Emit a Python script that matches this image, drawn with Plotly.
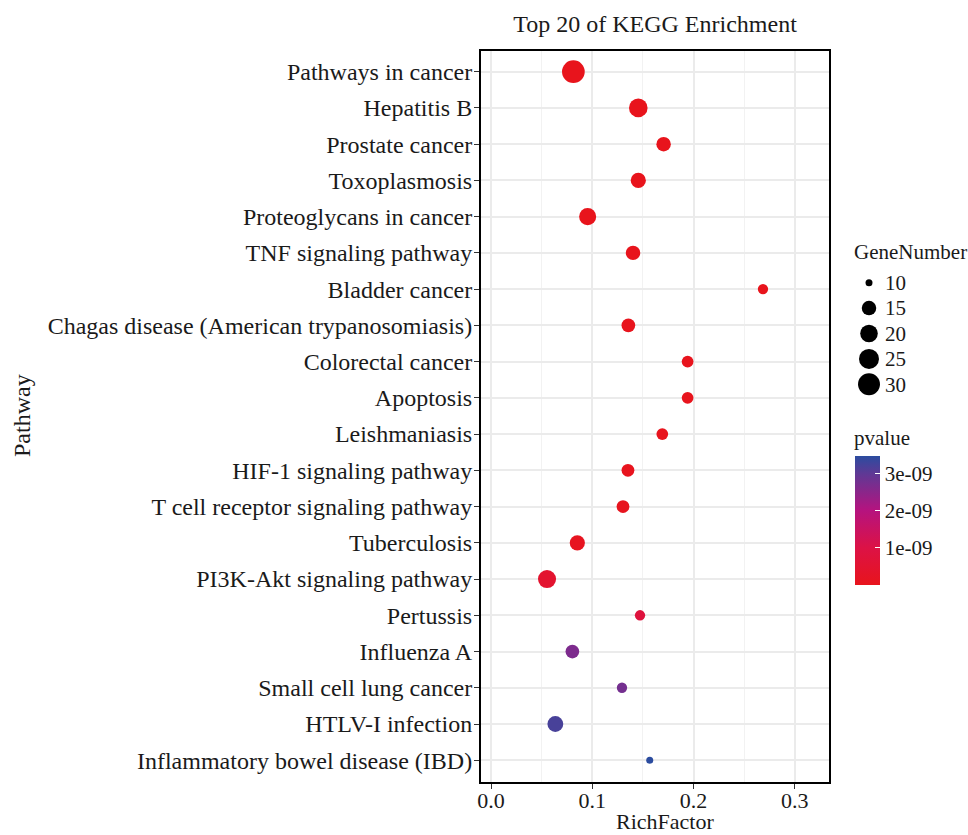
import plotly.graph_objects as go
import numpy as np

pathways = [
    "Pathways in cancer", "Hepatitis B", "Prostate cancer", "Toxoplasmosis",
    "Proteoglycans in cancer", "TNF signaling pathway", "Bladder cancer",
    "Chagas disease (American trypanosomiasis)", "Colorectal cancer", "Apoptosis",
    "Leishmaniasis", "HIF-1 signaling pathway", "T cell receptor signaling pathway",
    "Tuberculosis", "PI3K-Akt signaling pathway", "Pertussis", "Influenza A",
    "Small cell lung cancer", "HTLV-I infection", "Inflammatory bowel disease (IBD)",
]
rich_factor = [0.0813, 0.1454, 0.1704, 0.1454, 0.0954, 0.1402, 0.2685, 0.1356,
               0.1941, 0.1941, 0.1691, 0.1352, 0.1303, 0.0852, 0.0553, 0.1471,
               0.0803, 0.1293, 0.0635, 0.1567]
gene_number = [32, 22, 15, 16, 19, 15, 11, 14, 12, 12, 12, 13, 13, 16, 21, 11,
               14, 11, 17, 10]
pvalue = [2.0e-16, 1.5e-14, 3.0e-13, 8.0e-13, 2.0e-12, 4.0e-12, 1.0e-11, 1.5e-11,
          2.0e-11, 2.5e-11, 3.0e-11, 4.0e-11, 5.0e-11, 1.0e-10, 4.5e-10, 8.0e-10,
          2.65e-09, 2.75e-09, 3.2e-09, 3.47e-09]
legend_sizes = [10, 15, 20, 25, 30]
cbar_ticks = [1e-9, 2e-9, 3e-9]
cbar_ticktext = ["1e-09", "2e-09", "3e-09"]
x_ticks = [0.0, 0.1, 0.2, 0.3]
x_ticktext = ["0.0", "0.1", "0.2", "0.3"]

FONT = "Liberation Serif"
TXT = "#1a1a1a"
W, H = 968, 835
L, R, T, B = 481, 20, 51, 53
plot_w = W - L - R
plot_h = H - T - B
main_dom = 348 / plot_w

def px_x(x):
    return (x - L) / plot_w

def px_y(y):
    return (H - B - y) / plot_h

gmin, gmax = 10, 32
def diam(g):
    g = np.asarray(g, dtype=float)
    return 7 + 15.7 * np.sqrt(np.clip((g - gmin) / (gmax - gmin), 0, None))

colorscale = [
    [0.0, "#E8141C"],
    [0.29, "#DC1246"],
    [0.58, "#B5137F"],
    [0.865, "#5E3995"],
    [1.0, "#2B4C9F"],
]

fig = go.Figure()
fig.add_trace(go.Scatter(
    x=rich_factor, y=pathways, mode="markers",
    marker=dict(
        size=diam(gene_number), color=pvalue, colorscale=colorscale,
        cmin=min(pvalue), cmax=max(pvalue), line=dict(width=0), opacity=1,
        colorbar=dict(
            x=px_x(855), xanchor="left", xpad=0,
            y=px_y(585), yanchor="bottom", ypad=0,
            len=129, lenmode="pixels", thickness=25, thicknessmode="pixels",
            outlinewidth=0,
            tickvals=cbar_ticks, ticktext=cbar_ticktext,
            ticks="inside", ticklen=5, tickcolor="white", tickwidth=1,
            tickfont=dict(family=FONT, size=21, color=TXT),
        ),
    ),
    showlegend=False, xaxis="x", yaxis="y",
))

# size legend
fig.add_trace(go.Scatter(
    x=["GeneNumber"] * len(legend_sizes), y=[str(s) for s in legend_sizes],
    mode="markers", marker=dict(size=diam(legend_sizes), color="#000000",
                                opacity=1, line=dict(width=0)),
    showlegend=False, xaxis="x2", yaxis="y2", hoverinfo="skip",
))

leg_top, leg_bot = 270, 397
fig.update_layout(
    width=W, height=H,
    margin=dict(l=L, r=R, t=T, b=B, autoexpand=False),
    paper_bgcolor="white", plot_bgcolor="white",
    font=dict(family=FONT, color=TXT),
    title=dict(text="Top 20 of KEGG Enrichment", x=655 / W, xanchor="center",
               y=1 - 24 / H, yanchor="middle",
               font=dict(family=FONT, size=24, color=TXT)),
    xaxis=dict(
        domain=[0, main_dom], range=[-0.0099, 0.3337],
        tickvals=x_ticks, ticktext=x_ticktext,
        showgrid=True, gridcolor="#EBEBEB", gridwidth=1.6,
        minor=dict(dtick=0.05, tick0=0, showgrid=True, gridcolor="#F2F2F2", gridwidth=0.9),
        showline=True, linecolor="black", linewidth=2, mirror=True,
        ticks="outside", ticklen=5, tickcolor="#333333", tickwidth=1,
        tickfont=dict(family=FONT, size=22, color=TXT), ticklabelstandoff=-7,
        zeroline=False, automargin=False,
    ),
    yaxis=dict(
        domain=[0, 1], type="category", categoryorder="array", categoryarray=pathways,
        range=[19.6, -0.57],
        showgrid=True, gridcolor="#EBEBEB", gridwidth=1.6,
        showline=True, linecolor="black", linewidth=2, mirror=True,
        ticks="outside", ticklen=5, tickcolor="#333333", tickwidth=1,
        tickfont=dict(family=FONT, size=24, color=TXT), ticklabelstandoff=-3,
        zeroline=False, automargin=False,
    ),
    xaxis2=dict(
        domain=[px_x(854), px_x(884)], anchor="y2",
        visible=False, type="category",
    ),
    yaxis2=dict(
        domain=[px_y(leg_bot), px_y(leg_top)], anchor="x2",
        type="category", categoryorder="array", categoryarray=[str(s) for s in legend_sizes],
        range=[4.5, -0.5], side="right", showgrid=False, zeroline=False, showline=False,
        ticks="", tickfont=dict(family=FONT, size=21, color=TXT), automargin=False,
    ),
    annotations=[
        dict(text="GeneNumber", xref="paper", yref="paper",
             x=px_x(852), y=px_y(252), xanchor="left", yanchor="middle",
             showarrow=False, font=dict(family=FONT, size=21, color=TXT)),
        dict(text="pvalue", xref="paper", yref="paper",
             x=px_x(852), y=px_y(438), xanchor="left", yanchor="middle",
             showarrow=False, font=dict(family=FONT, size=21, color=TXT)),
        dict(text="RichFactor", xref="paper", yref="paper",
             x=px_x(665), y=px_y(822), xanchor="center", yanchor="middle",
             showarrow=False, font=dict(family=FONT, size=22, color=TXT)),
        dict(text="Pathway", xref="paper", yref="paper", textangle=-90,
             x=px_x(22), y=px_y(416), xanchor="center", yanchor="middle",
             showarrow=False, font=dict(family=FONT, size=24, color=TXT)),
    ],
)

fig.write_html("out.html", post_script="document.body.style.margin='0px';",
               config={"displayModeBar": False})
